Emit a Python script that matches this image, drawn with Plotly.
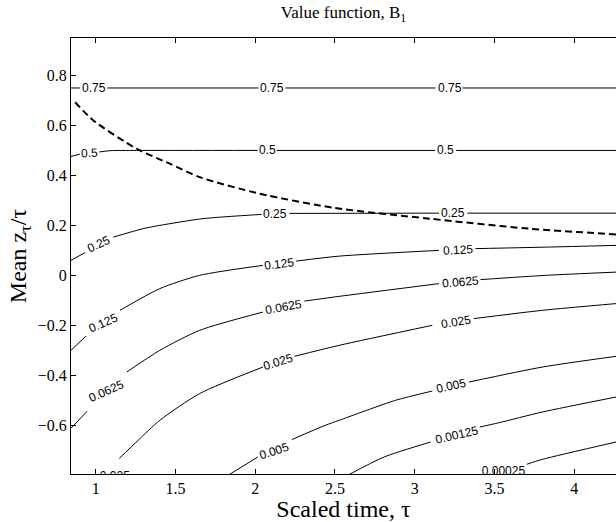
import plotly.graph_objects as go

# ---------------- data ----------------
x_range = [0.845, 4.262]
y_range = [-0.795, 0.95]
x_ticks = [1, 1.5, 2, 2.5, 3, 3.5, 4]
x_ticktext = ["1", "1.5", "2", "2.5", "3", "3.5", "4"]
y_ticks = [-0.6, -0.4, -0.2, 0, 0.2, 0.4, 0.6, 0.8]

# contour lines (None = gap where the inline label sits)
c075_x = [0.845, 0.90, None, 1.073, 2.02, None, 2.19, 3.13, None, 3.30, 4.262]
c075_y = [0.75, 0.75, None, 0.75, 0.75, None, 0.75, 0.75, None, 0.75, 0.75]

c05_x = [0.845, 0.90, None, 1.0225, 1.09, 1.256, 2.016, None, 2.135, 3.127, None, 3.26, 4.262]
c05_y = [0.476, 0.485, None, 0.494, 0.499, 0.5, 0.5, None, 0.5, 0.5, None, 0.5, 0.5]

c025_x = [0.845, 0.933, None, 1.11, 1.2975, 1.402, 1.6725, 2.04, None, 2.214, 3.152, None, 3.33, 4.262]
c025_y = [0.060, 0.091, None, 0.153, 0.187, 0.200, 0.227, 0.244, None, 0.248, 0.249, None, 0.249, 0.249]

c0125_x = [0.845, 0.939, None, 1.152, 1.402, 1.652, 2.048, None, 2.256, 2.527, 3.152, None, 3.381, 3.82, 4.262]
c0125_y = [-0.300, -0.243, None, -0.140, -0.053, 0.000, 0.040, None, 0.057, 0.077, 0.100, None, 0.107, 0.113, 0.120]

c00625_x = [0.845, 0.946, None, 1.194, 1.402, 1.652, 2.048, None, 2.308, 2.527, 3.152, None, 3.4125, 3.82, 4.262]
c00625_y = [-0.612, -0.544, None, -0.387, -0.300, -0.220, -0.147, None, -0.103, -0.084, -0.033, None, -0.017, 0.000, 0.013]

c0025_x = [1.1475, 1.266, 1.402, 1.652, 2.048, None, 2.246, 2.527, 3.11, None, 3.371, 3.80, 4.262]
c0025_y = [-0.733, -0.660, -0.580, -0.473, -0.367, None, -0.324, -0.280, -0.200, None, -0.173, -0.140, -0.113]

c0005_x = [1.83, 2.016, None, 2.23, 2.44, 2.527, 2.88, 3.11, None, 3.34, 3.80, 4.262]
c0005_y = [-0.80, -0.727, None, -0.657, -0.600, -0.580, -0.500, -0.463, None, -0.427, -0.367, -0.324]

c000125_x = [2.58, 2.808, 3.10, None, 3.408, 3.527, 3.80, 4.262]
c000125_y = [-0.80, -0.727, -0.667, None, -0.607, -0.590, -0.547, -0.487]

c000025_x = [3.703, 3.797, 4.262]
c000025_y = [-0.756, -0.737, -0.667]

# dashed boundary curve
bound_x = [0.871, 0.985, 1.256, 1.464, 1.652, 2.027, 2.496, 3.09, 3.715, 4.262]
bound_y = [0.693, 0.620, 0.507, 0.447, 0.393, 0.327, 0.270, 0.227, 0.187, 0.164]

# inline contour labels: text, x, y, rotation
label_text = ["0.75", "0.75", "0.75",
              "0.5", "0.5", "0.5",
              "0.25", "0.25", "0.25",
              "0.125", "0.125", "0.125",
              "0.0625", "0.0625", "0.0625",
              "0.025", "0.025",
              "0.005", "0.005",
              "0.00125"]
label_x = [0.99, 2.108, 3.22,
           0.9625, 2.075, 3.194,
           1.02, 2.127, 3.24,
           1.0475, 2.152, 3.27,
           1.069, 2.178, 3.289,
           2.141, 3.256,
           2.12, 3.225,
           3.262]
label_y = [0.75, 0.75, 0.75,
           0.491, 0.5, 0.5,
           0.124, 0.246, 0.249,
           -0.189, 0.047, 0.103,
           -0.464, -0.125, -0.027,
           -0.347, -0.187,
           -0.703, -0.443,
           -0.64]
label_angle = [0, 0, 0,
               -3, 0, 0,
               -25, 0, 0,
               -24, -7, -3,
               -24, -10, -5,
               -17, -9,
               -18, -12,
               -13]

# labels that are mostly clipped by the lower axis
clip_text = ["0.025", "0.00025"]
clip_x = [1.12, 3.556]
clip_y = [-0.808, -0.786]

contours = [
    (c075_x, c075_y), (c05_x, c05_y), (c025_x, c025_y),
    (c0125_x, c0125_y), (c00625_x, c00625_y), (c0025_x, c0025_y),
    (c0005_x, c0005_y), (c000125_x, c000125_y), (c000025_x, c000025_y),
]

# ---------------- figure ----------------
fig = go.Figure()
for cx, cy in contours:
    fig.add_trace(go.Scatter(x=cx, y=cy, mode="lines",
                             line=dict(color="black", width=1, shape="spline", smoothing=0.7),
                             connectgaps=False, hoverinfo="skip"))

fig.add_trace(go.Scatter(x=bound_x, y=bound_y, mode="lines",
                         line=dict(color="black", width=2, dash="7px,4px",
                                   shape="spline", smoothing=0.7),
                         hoverinfo="skip"))

fig.add_trace(go.Scatter(x=clip_x, y=clip_y, mode="text", text=clip_text,
                         textfont=dict(family="Liberation Sans", size=12, color="black"),
                         cliponaxis=True, hoverinfo="skip"))

for t, lx, ly, ang in zip(label_text, label_x, label_y, label_angle):
    fig.add_annotation(x=lx, y=ly, text=t, showarrow=False, textangle=ang,
                       xanchor="center", yanchor="middle",
                       font=dict(family="Liberation Sans", size=12, color="black"))

serif = "Liberation Serif"
fig.update_layout(
    width=616, height=522,
    margin=dict(l=71, r=0, t=38, b=48),
    paper_bgcolor="white", plot_bgcolor="white",
    showlegend=False,
    title=dict(text="Value function, B<sub>1</sub>", x=0.5, xref="paper",
               xanchor="center", y=1 - 12 / 522, yref="container", yanchor="middle",
               font=dict(family=serif, size=17, color="black")),
    font=dict(family=serif, color="black"),
)
fig.update_xaxes(
    range=x_range, tickvals=x_ticks, ticktext=x_ticktext,
    ticks="inside", ticklen=5, tickcolor="black", tickwidth=1,
    showline=True, linecolor="black", linewidth=1, mirror="ticks",
    showgrid=False, zeroline=False,
    tickfont=dict(family=serif, size=16, color="black"),
    title=dict(text="Scaled time, τ", standoff=0,
               font=dict(family=serif, size=24, color="black")),
)
fig.update_yaxes(
    range=y_range, tickvals=y_ticks,
    ticks="inside", ticklen=5, tickcolor="black", tickwidth=1,
    showline=True, linecolor="black", linewidth=1, mirror=False,
    showgrid=False, zeroline=False,
    tickfont=dict(family=serif, size=16, color="black"),
    title=dict(text="Mean z<sub>τ</sub>/τ", standoff=4,
               font=dict(family=serif, size=24, color="black")),
)

fig.write_html("out.html")
